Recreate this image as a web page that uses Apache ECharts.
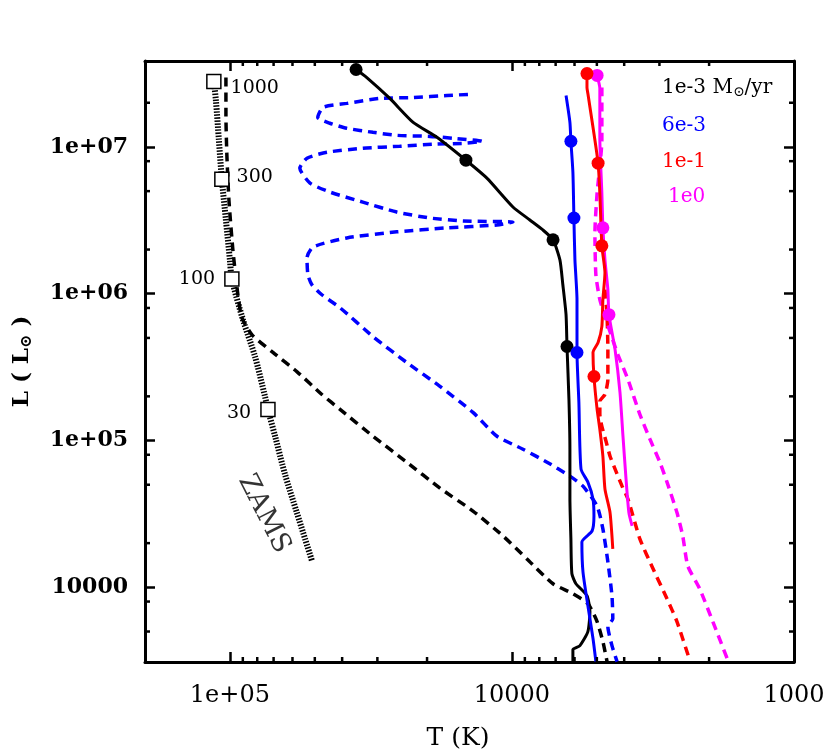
<!DOCTYPE html>
<html>
<head>
<meta charset="utf-8">
<script src="https://cdn.jsdelivr.net/npm/echarts@6.0.0/dist/echarts.min.js"></script>
<style>
  html, body { margin: 0; padding: 0; background: #fff; }
  #chart { width: 830px; height: 756px; }
</style>
</head>
<body>
<div id="chart"></div>
<script>
// ZAMS curve
const zamsT = [114000, 112100, 109400, 106800, 103300, 100000, 98400, 89900, 81500, 75100, 73300, 68700, 63800, 57900, 51200]
const zamsL = [2.79e7, 2.07e7, 1.11e7, 6.03e6, 3.18e6, 1.70e6, 1.26e6, 6.66e5, 3.74e5, 2.00e5, 1.63e5, 1.02e5, 5.9e4, 3.23e4, 1.52e4]
// mass marks on the ZAMS
const massLabels = ['1000', '300', '100', '30']
const massT = [114000, 106800, 98400, 73300]
const massL = [2.79e7, 6.03e6, 1.26e6, 1.63e5]

// 1e-3 Msun/yr
const blackSolidT = [35700, 32700, 27100, 22400, 18450, 14560, 12270, 9920, 8640, 7770, 7150, 6760, 6600, 6430, 6380, 6280, 6230, 6230, 6180, 6130, 5930, 5420, 5290, 5380, 5740, 6080, 6080]
const blackSolidL = [3.37e7, 2.97e7, 2.14e7, 1.47e7, 1.164e7, 8.12e6, 6.13e6, 3.90e6, 3.18e6, 2.72e6, 2.33e6, 1.70e6, 1.151e6, 7.20e5, 4.37e5, 1.91e5, 8.73e4, 4.0e4, 2.14e4, 1.237e4, 1.058e4, 8.77e3, 6.83e3, 4.99e3, 4.01e3, 3.77e3, 3.12e3]
const blackDotT = [35700, 14560, 7150, 6380]
const blackDotL = [3.37e7, 8.12e6, 2.33e6, 4.37e5]
const blackDashT = [103300, 103300, 102500, 100800, 97600, 93700, 90700, 83600, 70400, 57900, 47200, 40700, 31100, 23600, 18000, 13750, 10760, 8850, 7150, 6080, 5380, 4990, 4760, 4600]
const blackDashL = [2.97e7, 1.64e7, 8.78e6, 4.35e6, 1.99e6, 9.84e5, 6.87e5, 5.27e5, 3.98e5, 2.95e5, 2.06e5, 1.63e5, 1.07e5, 7.12e4, 4.74e4, 3.31e4, 2.24e4, 1.56e4, 1.058e4, 9.05e3, 7.74e3, 5.84e3, 4.27e3, 3.12e3]

// 6e-3
const blueSolidT = [6430, 6230, 6180, 6080, 6030, 5980, 5880, 5880, 5790, 5690, 5380, 5160, 5120, 5200, 5650, 5600, 5380, 5160, 5040]
const blueSolidL = [2.24e7, 1.47e7, 1.093e7, 6.73e6, 3.28e6, 1.70e6, 9.11e5, 3.98e5, 1.82e5, 6.39e4, 5.21e4, 4.0e4, 3.06e4, 2.42e4, 2.04e4, 1.276e4, 7.50e3, 4.48e3, 3.12e3]
const blueDotT = [6180, 6030, 5880]
const blueDotL = [1.093e7, 3.28e6, 3.98e5]
const blueDashT = [14320, 17000, 22400, 29400, 38500, 46800, 48800, 44200, 38500, 31100, 25600, 19540, 16200, 12770, 14680, 19060, 25000, 33800, 45300, 53300, 56500, 52000, 44200, 33800, 25600, 19540, 14920, 9920, 11300, 17000, 25600, 38500, 50800, 53300, 52900, 51200, 47200, 40700, 31100, 23600, 18000, 13750, 11300, 9140, 7510, 6230, 5600, 4990, 4760, 4570, 4420, 4390, 4570, 4420, 4240]
const blueDashL = [2.28e7, 2.24e7, 2.17e7, 2.14e7, 1.98e7, 1.86e7, 1.59e7, 1.45e7, 1.34e7, 1.258e7, 1.20e7, 1.18e7, 1.146e7, 1.093e7, 1.06e7, 1.043e7, 1.011e7, 9.80e6, 9.20e6, 8.38e6, 7.17e6, 5.67e6, 4.93e6, 4.21e6, 3.60e6, 3.28e6, 3.13e6, 3.08e6, 2.94e6, 2.81e6, 2.64e6, 2.40e6, 2.08e6, 1.755e6, 1.346e6, 1.151e6, 9.84e5, 8.03e5, 5.11e5, 3.40e5, 2.34e5, 1.556e5, 1.07e5, 8.73e4, 7.12e4, 5.72e4, 4.89e4, 3.58e4, 2.50e4, 1.492e4, 8.77e3, 6.12e3, 5.40e3, 4.01e3, 3.12e3]

// 1e-1
const redSolidT = [5420, 5420, 5380, 5160, 4950, 4880, 4800, 4680, 4760, 4800, 4950, 5160, 5120, 4990, 4880, 4760, 4680, 4490, 4390]
const redSolidL = [3.16e7, 2.54e7, 2.31e7, 1.36e7, 7.75e6, 4.85e6, 2.12e6, 1.389e6, 9.11e5, 5.97e5, 4.65e5, 3.98e5, 2.73e5, 1.63e5, 1.193e5, 7.82e4, 4.67e4, 3.23e4, 1.83e4]
const redDotT = [5420, 4950, 4800, 5120]
const redDotL = [3.16e7, 7.75e6, 2.12e6, 2.73e5]
const redDashT = [4680, 4600, 4570, 4570, 4680, 4880, 4880, 4800, 4640, 4490, 4280, 4070, 3880, 3520, 3160, 2820, 2600, 2340]
const redDashL = [1.065e6, 6.98e5, 4.17e5, 2.61e5, 2.06e5, 1.85e5, 1.508e5, 1.25e5, 9.89e4, 7.82e4, 6.19e4, 4.89e4, 4.0e4, 2.14e4, 1.337e4, 8.37e3, 5.84e3, 3.17e3]

// 1e0
const magSolidT = [4990, 4880, 4880, 4880, 4800, 4760, 4680, 4570, 4530, 4310, 4140, 4040, 3940, 3850, 3750]
const magSolidL = [3.07e7, 2.50e7, 1.775e7, 1.146e7, 4.85e6, 2.81e6, 1.70e6, 1.065e6, 7.20e5, 4.17e5, 2.13e5, 1.07e5, 5.46e4, 3.23e4, 2.62e4]
const magDotT = [4990, 4760, 4530]
const magDotL = [3.07e7, 2.81e6, 7.20e5]
const magDashT = [4800, 4800, 4990, 5080, 5040, 4880, 4640, 4420, 4210, 3880, 3520, 3240, 2990, 2820, 2600, 2480, 2380, 2160, 1940, 1715]
const magDashL = [2.54e7, 1.11e7, 4.85e6, 2.60e6, 1.346e6, 9.11e5, 6.66e5, 5.03e5, 3.85e5, 2.61e5, 1.508e5, 1.02e5, 7.12e4, 5.21e4, 3.23e4, 2.24e4, 1.40e4, 9.78e3, 5.84e3, 3.17e3]

// axis ticks
const xMinorTicks = [2000, 3000, 4000, 5000, 6000, 7000, 8000, 9000, 20000, 30000, 40000, 50000, 60000, 70000, 80000, 90000]
const yMinorTicks = [5e3, 8e3, 2e4, 5e4, 8e4, 2e5, 5e5, 8e5, 2e6, 5e6, 8e6, 2e7]
const zamsTextPos = [75700, 3.16e4]

const SERIF = 'DejaVu Serif'
const pairs = (T, L) => T.map((t, i) => [t, L[i]])

const tickFmt = (v) => {
  const e = Math.log10(v)
  const r = Math.round(e)
  if (Math.abs(e - r) > 1e-6) return ''
  if (r >= 5) return '1e+' + (r < 10 ? '0' : '') + r
  return String(Math.round(v))
}

const curve = (data, color, dashed, width, z) => ({
  type: 'line',
  data,
  showSymbol: false,
  symbol: 'none',
  smooth: 0.2,
  silent: true,
  z,
  lineStyle: { color, width, type: dashed ? [9, 6] : 'solid', cap: 'butt' }
})

const dots = (data, color) => ({
  type: 'scatter',
  data,
  symbol: 'circle',
  symbolSize: 13,
  silent: true,
  z: 5,
  itemStyle: { color, opacity: 1 }
})

const xAxisBase = {
  type: 'log',
  min: 1000,
  max: 200000,
  inverse: true,
  splitNumber: 3,
  axisLine: { show: true, onZero: false, lineStyle: { color: '#000', width: 3 } },
  axisTick: { show: true, inside: true, length: 10, lineStyle: { color: '#000', width: 2.5 } },
  splitLine: { show: false },
  minorTick: { show: false }
}

const yAxisBase = {
  type: 'log',
  min: 3100,
  max: 3.85e7,
  splitNumber: 4,
  axisLine: { show: true, onZero: false, lineStyle: { color: '#000', width: 3 } },
  axisTick: { show: true, inside: true, length: 10, lineStyle: { color: '#000', width: 2.5 } },
  splitLine: { show: false },
  minorTick: { show: false }
}

const chart = echarts.init(document.getElementById('chart'))

const option = {
  animation: false,
  backgroundColor: '#fff',
  grid: { left: 145, right: 36, top: 61, bottom: 92, containLabel: false },
  xAxis: [
    {
      ...xAxisBase,
      position: 'bottom',
      axisLabel: { formatter: tickFmt, margin: 22, color: '#000', fontFamily: SERIF, fontSize: 24 },
      name: 'T (K)',
      nameLocation: 'middle',
      nameGap: 64,
      nameTextStyle: { color: '#000', fontFamily: SERIF, fontSize: 25, padding: [0, 23, 0, 0] }
    },
    { ...xAxisBase, position: 'top', axisLabel: { show: false } }
  ],
  yAxis: [
    {
      ...yAxisBase,
      position: 'left',
      axisLabel: { formatter: tickFmt, margin: 17, color: '#000', fontFamily: SERIF, fontWeight: 'bold', fontSize: 22 },
      name: '{b|L ( L}{s|⊙}{b| )}',
      nameLocation: 'middle',
      nameRotate: 90,
      nameGap: 110,
      nameTextStyle: {
        rich: {
          b: { color: '#000', fontFamily: SERIF, fontWeight: 'bold', fontSize: 23 },
          s: { color: '#000', fontFamily: SERIF, fontWeight: 'bold', fontSize: 16, padding: [9, 0, 0, 0] }
        }
      }
    },
    { ...yAxisBase, position: 'right', axisLabel: { show: false } }
  ],
  graphic: [
    {
      type: 'text', x: 662, y: 88, z: 100,
      style: {
        text: '{a|1e-3 M}{s|⊙}{a|/yr}',
        verticalAlign: 'middle',
        rich: {
          a: { fill: '#000', fontFamily: SERIF, fontSize: 20 },
          s: { fill: '#000', fontFamily: SERIF, fontSize: 14, padding: [9, 0, 0, 0] }
        }
      }
    },
    { type: 'text', x: 662, y: 126, z: 100, style: { text: '6e-3', fill: '#0000ff', font: '20px "DejaVu Serif"', verticalAlign: 'middle' } },
    { type: 'text', x: 662, y: 162, z: 100, style: { text: '1e-1', fill: '#ff0000', font: '20px "DejaVu Serif"', verticalAlign: 'middle' } },
    { type: 'text', x: 668, y: 197, z: 100, style: { text: '1e0', fill: '#ff00ff', font: '20px "DejaVu Serif"', verticalAlign: 'middle' } }
  ],
  series: [
    curve(pairs(blueDashT, blueDashL), '#0000ff', true, 3.5, 2),
    curve(pairs(blackDashT, blackDashL), '#000', true, 3.5, 2),
    curve(pairs(redDashT, redDashL), '#ff0000', true, 3.5, 2),
    curve(pairs(magDashT, magDashL), '#ff00ff', true, 3.5, 2),
    {
      type: 'line',
      data: pairs(zamsT, zamsL),
      showSymbol: false,
      symbol: 'none',
      smooth: 0.3,
      silent: true,
      z: 3,
      lineStyle: { color: '#000', width: 6, type: [1.5, 1.5], cap: 'butt' }
    },
    curve(pairs(blackSolidT, blackSolidL), '#000', false, 3, 3),
    curve(pairs(blueSolidT, blueSolidL), '#0000ff', false, 3, 3),
    curve(pairs(magSolidT, magSolidL), '#ff00ff', false, 3, 3),
    curve(pairs(redSolidT, redSolidL), '#ff0000', false, 3, 3),
    dots(pairs(blackDotT, blackDotL), '#000'),
    dots(pairs(blueDotT, blueDotL), '#0000ff'),
    dots(pairs(magDotT, magDotL), '#ff00ff'),
    dots(pairs(redDotT, redDotL), '#ff0000'),
    {
      type: 'scatter',
      symbol: 'rect',
      symbolSize: 14,
      silent: true,
      z: 6,
      itemStyle: { color: '#fff', borderColor: '#000', borderWidth: 1.5, opacity: 1 },
      data: massT.map((t, i) => ({
        value: [t, massL[i]],
        label: {
          show: true,
          formatter: massLabels[i],
          position: i < 2 ? 'right' : 'left',
          distance: [9, 7, 9, 9][i],
          offset: [[0, 7], [0, -2], [0, 0], [0, 4]][i],
          color: '#000',
          fontFamily: SERIF,
          fontSize: 19
        }
      }))
    },
    {
      type: 'scatter',
      symbolSize: 0,
      silent: true,
      z: 6,
      data: [{
        value: zamsTextPos,
        label: {
          show: true,
          formatter: 'ZAMS',
          position: 'inside',
          rotate: -63,
          color: '#000',
          fontFamily: SERIF,
          fontSize: 27
        }
      }]
    },
    {
      type: 'custom',
      silent: true,
      z: 10,
      clip: false,
      data: xMinorTicks.map(v => [v, 1e5, 0]).concat(yMinorTicks.map(v => [1e4, v, 1])),
      renderItem: (params, api) => {
        const cs = params.coordSys
        const p = api.coord([api.value(0), api.value(1)])
        const st = { stroke: '#000', lineWidth: 2.5 }
        if (api.value(2) === 0) {
          return {
            type: 'group',
            children: [
              { type: 'line', shape: { x1: p[0], y1: cs.y + cs.height, x2: p[0], y2: cs.y + cs.height - 5 }, style: st },
              { type: 'line', shape: { x1: p[0], y1: cs.y, x2: p[0], y2: cs.y + 5 }, style: st }
            ]
          }
        }
        return {
          type: 'group',
          children: [
            { type: 'line', shape: { x1: cs.x, y1: p[1], x2: cs.x + 5, y2: p[1] }, style: st },
            { type: 'line', shape: { x1: cs.x + cs.width, y1: p[1], x2: cs.x + cs.width - 5, y2: p[1] }, style: st }
          ]
        }
      }
    }
  ]
}

chart.setOption(option)
</script>
</body>
</html>
